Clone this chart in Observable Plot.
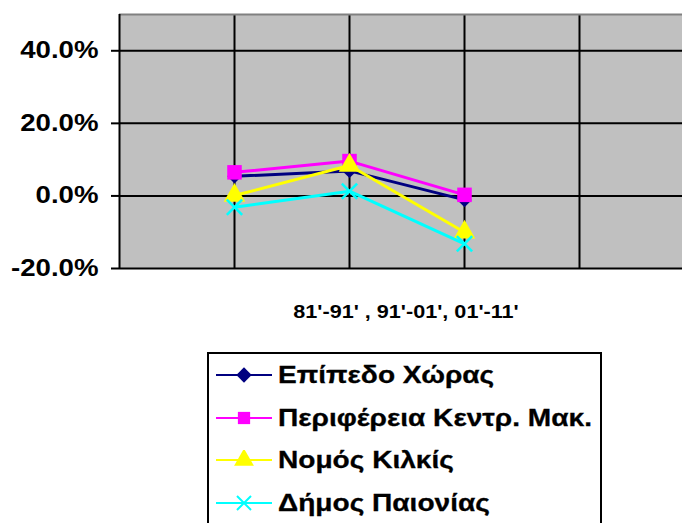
<!DOCTYPE html>
<html>
<head>
<meta charset="utf-8">
<script src="https://cdn.jsdelivr.net/npm/d3@7"></script>
<script src="https://cdn.jsdelivr.net/npm/@observablehq/plot@0.6"></script>
<style>
  html, body { margin: 0; padding: 0; background: #fff; overflow: hidden; width: 682px; height: 523px; }
  #chart { position: absolute; left: 0; top: 0; }
  #legend { position: absolute; left: 207px; top: 352px; width: 391px; height: 200px; border: 2px solid #000; background: #fff; }
  .row { position: absolute; left: 7px; height: 42px; display: flex; align-items: center; }
  .row svg { flex: none; }
  .row span { font-family: "Liberation Sans", Arial, sans-serif; font-weight: bold; font-size: 24px; color: #000; margin-left: 6px; display: inline-block; transform: scaleX(1.17); transform-origin: left center; white-space: nowrap; -webkit-text-stroke: 0.3px #000; }
</style>
</head>
<body>
<div id="chart"></div>
<div id="legend"></div>
<script>
const periods = [1, 2, 3];
const periodLabel = "81'-91' , 91'-01', 01'-11'";
const seriesNames = ["Επίπεδο Χώρας", "Περιφέρεια Κεντρ. Μακ.", "Νομός Κιλκίς", "Δήμος Παιονίας"];
const epipedoXoras = [5.4, 6.9, -1.1];
const perifereia = [6.5, 9.6, 0.3];
const nomosKilkis = [0.1, 8.4, -10.0];
const dimosPaionias = [-3.1, 1.3, -13.2];
const yTicks = [-20, 0, 20, 40];
const colors = ["#000080", "#FF00FF", "#FFFF00", "#00FFFF"];
const symbols = ["diamond2", "square", "triangle", "times"];

const seriesValues = [epipedoXoras, perifereia, nomosKilkis, dimosPaionias];
const rows = seriesValues.flatMap((vals, s) => vals.map((v, i) => ({series: seriesNames[s], s, x: periods[i], y: v})));

const W = 682, H = 345, ML = 119, MT = 14, MB = 77;
const xMax = (W - ML) / 115;
const tickLen = 8 / 115;

const marks = [
  Plot.frame({fill: "#C0C0C0", stroke: null}),
  Plot.ruleX([1, 2, 3, 4], {stroke: "#000", strokeWidth: 2}),
  Plot.ruleY(yTicks, {stroke: "#000", strokeWidth: 2}),
  Plot.ruleY([50], {stroke: "#808080", strokeWidth: 2}),
  Plot.ruleX([0], {stroke: "#000", strokeWidth: 2}),
  Plot.ruleY(yTicks, {x1: -tickLen, x2: 0, stroke: "#000", strokeWidth: 2}),
  Plot.text(yTicks, {
    y: d => d, frameAnchor: "left", dx: -21, textAnchor: "end",
    text: d => d.toFixed(1) + "%", fontSize: 23, fontWeight: "bold", fill: "#000"
  }),
  Plot.text([periodLabel], {frameAnchor: "bottom", dy: 44, dx: 5, lineAnchor: "middle", fontSize: 18, fontWeight: "bold", fill: "#000"})
];
seriesNames.forEach((name, s) => {
  const d = rows.filter(r => r.s === s);
  marks.push(Plot.line(d, {x: "x", y: "y", stroke: colors[s], strokeWidth: 3}));
  const isStroke = symbols[s] === "times";
  marks.push(Plot.dot(d, {
    x: "x", y: "y", symbol: () => symbols[s],
    r: s === 0 ? 6.5 : s === 1 ? 8.2 : s === 2 ? 8 : 7,
    fill: isStroke ? "none" : colors[s],
    stroke: isStroke ? colors[s] : "none",
    strokeWidth: isStroke ? 2.5 : 0
  }));
});

const chart = Plot.plot({
  width: W, height: H,
  marginLeft: ML, marginRight: 0, marginTop: MT, marginBottom: MB,
  style: {fontFamily: "'Liberation Sans', Arial, sans-serif", background: "#fff", overflow: "visible"},
  x: {domain: [0, xMax], axis: null},
  y: {domain: [-20, 50], axis: null},
  marks
});
document.getElementById("chart").appendChild(chart);

// stretch text horizontally like the original rendering
chart.querySelectorAll("text").forEach(el => {
  const len = el.getComputedTextLength();
  if (len > 0) {
    el.setAttribute("textLength", (len * 1.2).toFixed(1));
    el.setAttribute("lengthAdjust", "spacingAndGlyphs");
  }
});

// legend
const legend = document.getElementById("legend");
seriesNames.forEach((name, s) => {
  const row = document.createElement("div");
  row.className = "row";
  row.style.top = (s * 42.5) + "px";
  const svg = d3.create("svg").attr("width", 56).attr("height", 20);
  svg.append("line").attr("x1", 0).attr("x2", 56).attr("y1", 10).attr("y2", 10).attr("stroke", colors[s]).attr("stroke-width", 2);
  const symMap = {diamond2: d3.symbolDiamond2, square: d3.symbolSquare, triangle: d3.symbolTriangle, times: d3.symbolTimes};
  const sizes = [150, 150, 170, 130];
  const p = svg.append("path").attr("transform", "translate(28,10)").attr("d", d3.symbol(symMap[symbols[s]], sizes[s])());
  if (symbols[s] === "times") p.attr("fill", "none").attr("stroke", colors[s]).attr("stroke-width", 2);
  else p.attr("fill", colors[s]);
  row.appendChild(svg.node());
  const span = document.createElement("span");
  span.textContent = name;
  row.appendChild(span);
  legend.appendChild(row);
});
</script>
</body>
</html>
